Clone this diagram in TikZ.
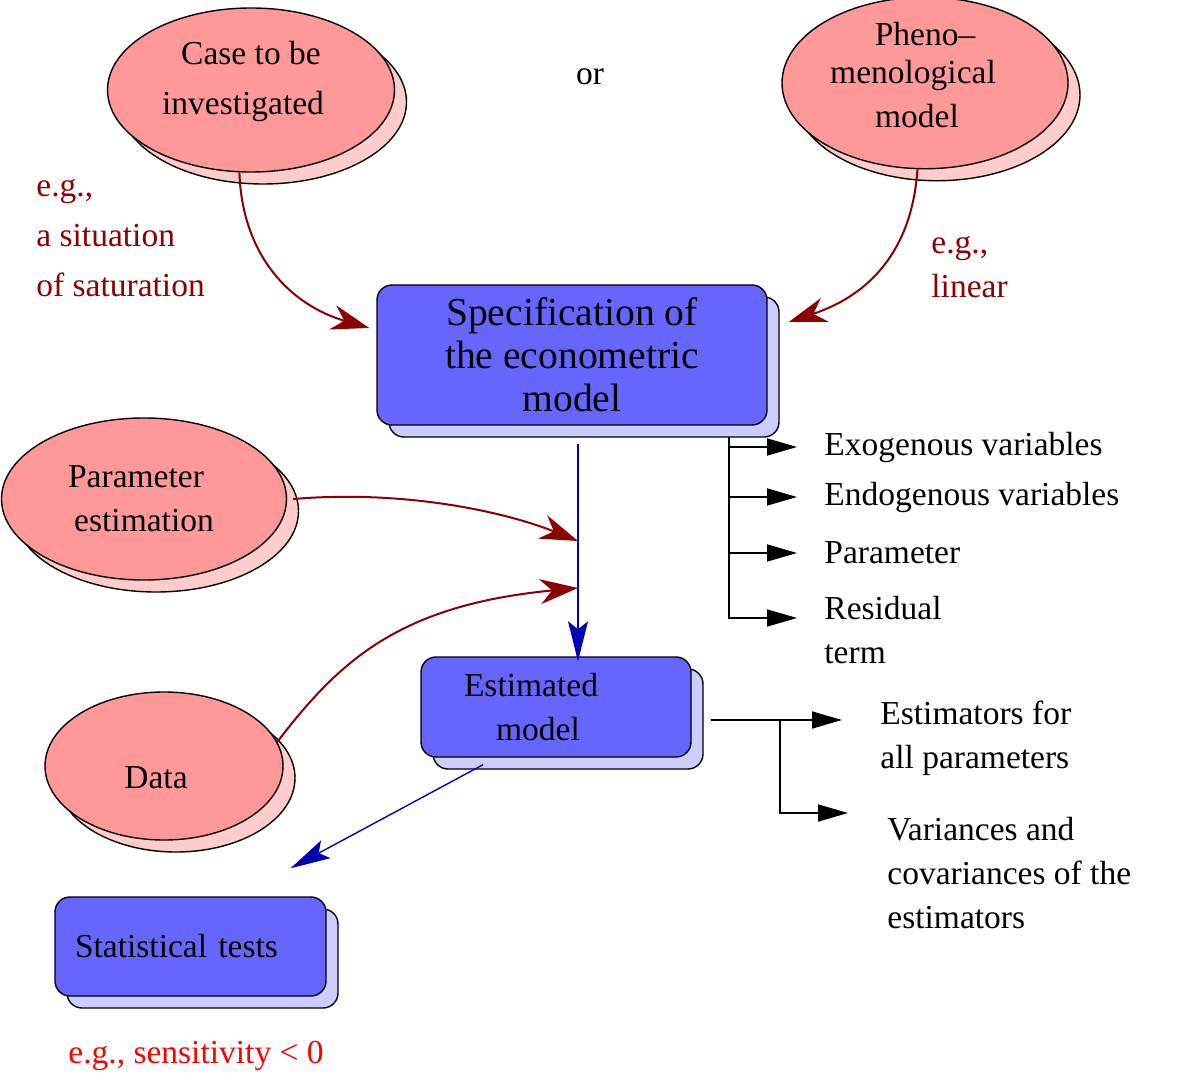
\documentclass[tikz,border=0pt]{standalone}
\usepackage{fontspec}
\setmainfont{Liberation Serif}
\usetikzlibrary{shapes.geometric,shadows,arrows.meta}

\definecolor{bubblefill}{HTML}{FF9999}
\definecolor{bubbleshade}{HTML}{FFCCCC}
\definecolor{boxfill}{HTML}{6666FF}
\definecolor{boxshade}{HTML}{CCCCFF}
\definecolor{linkred}{HTML}{8B0000}
\definecolor{flowblue}{HTML}{0000B4}

\begin{document}
\begin{tikzpicture}[x=.5pt,y=-.5pt,
    every node/.style={font=\fontsize{16.75}{22}\selectfont,inner sep=0pt},
    bubble/.style={ellipse,draw,line width=.7pt,fill=bubblefill,align=center,
      minimum width=143.5pt,minimum height=82pt,
      general shadow={shadow xshift=6pt,shadow yshift=-6pt,fill=bubbleshade,draw=black,line width=.7pt}},
    stepbox/.style={rectangle,rounded corners=7.5pt,draw,line width=.7pt,fill=boxfill,align=center,
      general shadow={shadow xshift=6pt,shadow yshift=-6pt,fill=boxshade,draw=black,line width=.7pt}},
    note/.style={align=left,anchor=west},
    link/.style={linkred,line width=1pt,-{Stealth[length=19pt,width=12.5pt,inset=6pt]}},
    flow/.style={flowblue,line width=.7pt,-{Stealth[length=20pt,width=10pt,inset=4pt]}},
    tree/.style={line width=.8pt,-{Triangle[length=15pt,width=8.5pt]}}]
  \useasboundingbox (0,0) rectangle (1177,1079);

  % where the model comes from
  \node [bubble,text depth=11.7pt] (case) at (251,90) {Case to be\\[3pt]investigated\mbox{\hspace{8pt}}};
  \node (or) at (590,77) {or};
  \node [bubble,minimum width=143pt,minimum height=81.5pt,text depth=8pt] (pheno) at (925,83) {Pheno--\\[-3pt]menological\mbox{\hspace{12pt}}\\[0pt]model\mbox{\hspace{8pt}}};
  \node [note,text=linkred] (egCase) at (36,238) {e.g.,\\[3pt]a situation\\[3pt]of saturation};
  \node [note,text=linkred] (egPheno) at (931,267) {e.g.,\\linear};

  \node [stepbox,minimum width=195pt,minimum height=70pt,font=\fontsize{19.8}{21.5}\selectfont] (spec) at (572,355) {Specification of\\the econometric\\model};

  \node [bubble,minimum width=142.5pt,minimum height=81pt] (param) at (144,499) {Parameter\mbox{\hspace{8pt}}\\estimation};
  \node [bubble,minimum width=119pt,minimum height=74pt,text height=23pt] (data) at (164,766) {Data\mbox{\hspace{8pt}}};

  \node [stepbox,minimum width=135pt,minimum height=50pt] (estim) at (556,707) {Estimated\mbox{\hspace{25pt}}\\model\mbox{\hspace{18pt}}};
  \node [stepbox,text width=115.5pt,inner xsep=10pt,minimum height=49.5pt,align=left] (tests) at (190.5,946.5) {Statistical tests};
  \node [text=red] (egTests) at (196,1056) {e.g., sensitivity < 0};

  % parts of the specification
  \coordinate (specFork) at (729,437);
  \node [note] (exo) at (824,447) {Exogenous variables};
  \node [note] (endo) at (824,497) {Endogenous variables};
  \node [note] (par) at (824,553) {Parameter};
  \node [note] (resid) at (824,630) {Residual\\term};
  \draw [tree] (specFork |- exo.west) -- ([xshift=-13.5pt]exo.west);
  \draw [tree] (specFork |- endo.west) -- ([xshift=-13.5pt]endo.west);
  \draw [tree] (specFork |- par.west) -- ([xshift=-13.5pt]par.west);
  \draw [tree] (specFork) |- ([xshift=-13.5pt,yshift=6pt]resid.west);

  % what the estimation gives
  \coordinate (estFork) at (780,720);
  \node [note] (estimators) at (880,738) {Estimators for\\all parameters};
  \node [note] (variances) at (887,873) {Variances and\\covariances of the\\estimators};
  \draw [tree] ([xshift=9.5pt,yshift=-6.5pt]estim.east) -- ([xshift=-19pt,yshift=9pt]estimators.west);
  \draw [tree] (estFork) |- ([xshift=-19.5pt,yshift=30pt]variances.west);

  % main flow
  \coordinate (mergeA) at (578,541);
  \coordinate (mergeB) at (578,588);
  \draw [flow] ([xshift=3pt,yshift=-9pt]spec.south) -- ([xshift=11pt,yshift=-2.5pt]estim.north);
  \draw [flow] ([xshift=-36.5pt,yshift=-3.5pt]estim.south) -- ([xshift=50pt,yshift=14pt]tests.north);

  \draw [link] (case.262) .. controls (242,255) and (290,305) .. ([xshift=-3.5pt,yshift=13.5pt]spec.west);
  \draw [link] (pheno.265) .. controls (912,250) and (870,295) .. ([xshift=10.5pt,yshift=16.5pt]spec.east);
  \draw [link] ([xshift=3pt]param.east) .. controls (400,490) and (500,510) .. (mergeA);
  \draw [link] (data.12) .. controls (340,660) and (400,605) .. (mergeB);
\end{tikzpicture}
\end{document}
